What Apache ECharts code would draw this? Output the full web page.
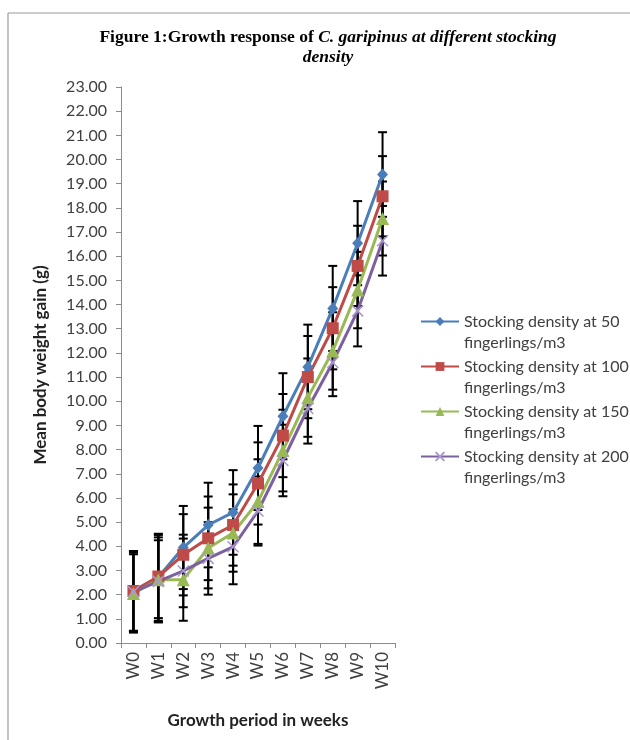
<!DOCTYPE html>
<html>
<head>
<meta charset="utf-8">
<script src="https://cdn.jsdelivr.net/npm/echarts@6/dist/echarts.min.js"></script>
<style>
  html, body { margin: 0; padding: 0; background: #fff; }
  #chartGrowth { width: 630px; height: 740px; }
</style>
</head>
<body>
<div id="chartGrowth"></div>
<script>
  const weeks = ["W0", "W1", "W2", "W3", "W4", "W5", "W6", "W7", "W8", "W9", "W10"];
  const seriesNames = [
    "Stocking density at 50 fingerlings/m3",
    "Stocking density at 100 fingerlings/m3",
    "Stocking density at 150 fingerlings/m3",
    "Stocking density at 200 fingerlings/m3"
  ];
  // mean body weight gain (g)
  const density50 = [2.15, 2.72, 3.95, 4.88, 5.40, 7.24, 9.38, 11.42, 13.84, 16.54, 19.38];
  const density100 = [2.15, 2.75, 3.65, 4.33, 4.88, 6.60, 8.58, 11.00, 13.02, 15.60, 18.48];
  const density150 = [2.05, 2.62, 2.62, 3.93, 4.55, 5.85, 7.96, 10.15, 12.08, 14.60, 17.56];
  const density200 = [2.12, 2.55, 2.98, 3.50, 3.98, 5.46, 7.55, 9.70, 11.60, 13.74, 16.64];
  // error bars (+/-)
  const err50 = [1.65, 1.80, 1.72, 1.75, 1.75, 1.74, 1.78, 1.75, 1.76, 1.74, 1.75];
  const err100 = [1.65, 1.72, 1.68, 1.73, 1.68, 1.70, 1.72, 1.70, 1.70, 1.66, 1.66];
  const err150 = [1.62, 1.75, 1.70, 1.67, 1.60, 1.75, 1.69, 1.62, 1.60, 1.58, 1.53];
  const err200 = [1.62, 1.70, 1.50, 1.50, 1.55, 1.43, 1.48, 1.45, 1.39, 1.47, 1.44];
  const yTicks = { min: 0, max: 23, interval: 1 };

  const colors = ["#4A7EBB", "#BE4B48", "#98B954", "#7D60A0"];
  const symbols = [
    "diamond",
    "rect",
    "triangle",
    "path://M0,0L10,10M10,0L0,10"
  ];
  const symbolSizes = [[11, 12], 12, 13, 11];
  const means = [density50, density100, density150, density200];
  const errs = [err50, err100, err150, err200];

  const font = "Lato, 'Open Sans', sans-serif";

  const errorBar = (params, api) => {
    const x = api.value(0);
    const y = api.value(1);
    const e = api.value(2);
    const hi = api.coord([x, y + e]);
    const lo = api.coord([x, y - e]);
    const w = 4.5;
    const st = { stroke: "#000", lineWidth: 2 };
    return {
      type: "group",
      children: [
        { type: "line", shape: { x1: hi[0], y1: hi[1], x2: lo[0], y2: lo[1] }, style: st },
        { type: "line", shape: { x1: hi[0] - w, y1: hi[1], x2: hi[0] + w, y2: hi[1] }, style: st },
        { type: "line", shape: { x1: lo[0] - w, y1: lo[1], x2: lo[0] + w, y2: lo[1] }, style: st }
      ]
    };
  };

  const series = [];
  means.forEach((vals, i) => {
    series.push({
      name: seriesNames[i] + "_err",
      type: "custom",
      renderItem: errorBar,
      data: vals.map((v, j) => [j, v, errs[i][j]]),
      z: 1,
      silent: true
    });
  });
  means.forEach((vals, i) => {
    series.push({
      name: seriesNames[i],
      type: "line",
      data: vals,
      symbol: symbols[i],
      symbolSize: symbolSizes[i],
      lineStyle: { color: colors[i], width: 3 },
      itemStyle: i === 3
        ? { color: "#9d8bc4", borderColor: "#a898cc", borderWidth: 1.5 }
        : { color: colors[i] },
      z: 3
    });
  });

  const option = {
    animation: false,
    backgroundColor: "#fff",
    title: {
      text: "Figure 1:Growth response of {i|C. garipinus at different stocking}\n{i|density}",
      left: 323,
      top: 22,
      textAlign: "center",
      textStyle: {
        fontFamily: "'Liberation Serif', 'DejaVu Serif', serif",
        fontSize: 17.5,
        fontWeight: "bold",
        color: "#000",
        lineHeight: 20,
        rich: {
          i: {
            fontFamily: "'Liberation Serif', 'DejaVu Serif', serif",
            fontSize: 17.5,
            fontWeight: "bold",
            fontStyle: "italic",
            color: "#000",
            lineHeight: 20
          }
        }
      }
    },
    graphic: [
      { type: "line", shape: { x1: 8, y1: 13, x2: 630, y2: 13 }, style: { stroke: "#9a9a9a", lineWidth: 1.2 } },
      { type: "line", shape: { x1: 8, y1: 13, x2: 8, y2: 740 }, style: { stroke: "#9a9a9a", lineWidth: 1.2 } }
    ],
    legend: {
      data: seriesNames,
      orient: "vertical",
      left: 420,
      top: 290,
      padding: 0,
      itemWidth: 38,
      itemHeight: 11,
      itemGap: -18,
      // blank first line keeps the icon level with the first text line
      formatter: (name) => " \n" + name.replace(" fingerlings", "\nfingerlings"),
      textStyle: {
        fontFamily: font,
        fontSize: 16,
        lineHeight: 21,
        color: "#404040"
      }
    },
    grid: {
      left: 121,
      right: 235,
      top: 87,
      bottom: 97,
      containLabel: false
    },
    xAxis: {
      type: "category",
      data: weeks,
      boundaryGap: true,
      name: "Growth period in weeks",
      nameLocation: "middle",
      nameGap: 69,
      nameTextStyle: { fontFamily: font, fontSize: 17, fontWeight: "bold", color: "#222" },
      axisLine: { lineStyle: { color: "#8c8c8c", width: 1 } },
      axisTick: { show: true, length: 5, lineStyle: { color: "#8c8c8c" } },
      axisLabel: { rotate: 90, margin: 9, fontFamily: font, fontSize: 17, color: "#404040", interval: 0 }
    },
    yAxis: {
      type: "value",
      min: yTicks.min,
      max: yTicks.max,
      interval: yTicks.interval,
      name: "Mean body weight gain (g)",
      nameLocation: "middle",
      nameGap: 72,
      nameTextStyle: { fontFamily: font, fontSize: 17, fontWeight: "bold", color: "#222" },
      axisLine: { show: true, lineStyle: { color: "#8c8c8c", width: 1 } },
      axisTick: { show: true, length: 5, lineStyle: { color: "#8c8c8c" } },
      splitLine: { show: false },
      axisLabel: {
        margin: 14,
        fontFamily: font,
        fontSize: 16,
        color: "#404040",
        formatter: (v) => v.toFixed(2)
      }
    },
    series: series
  };

  const chart = echarts.init(document.getElementById("chartGrowth"));
  chart.setOption(option);
</script>
</body>
</html>
